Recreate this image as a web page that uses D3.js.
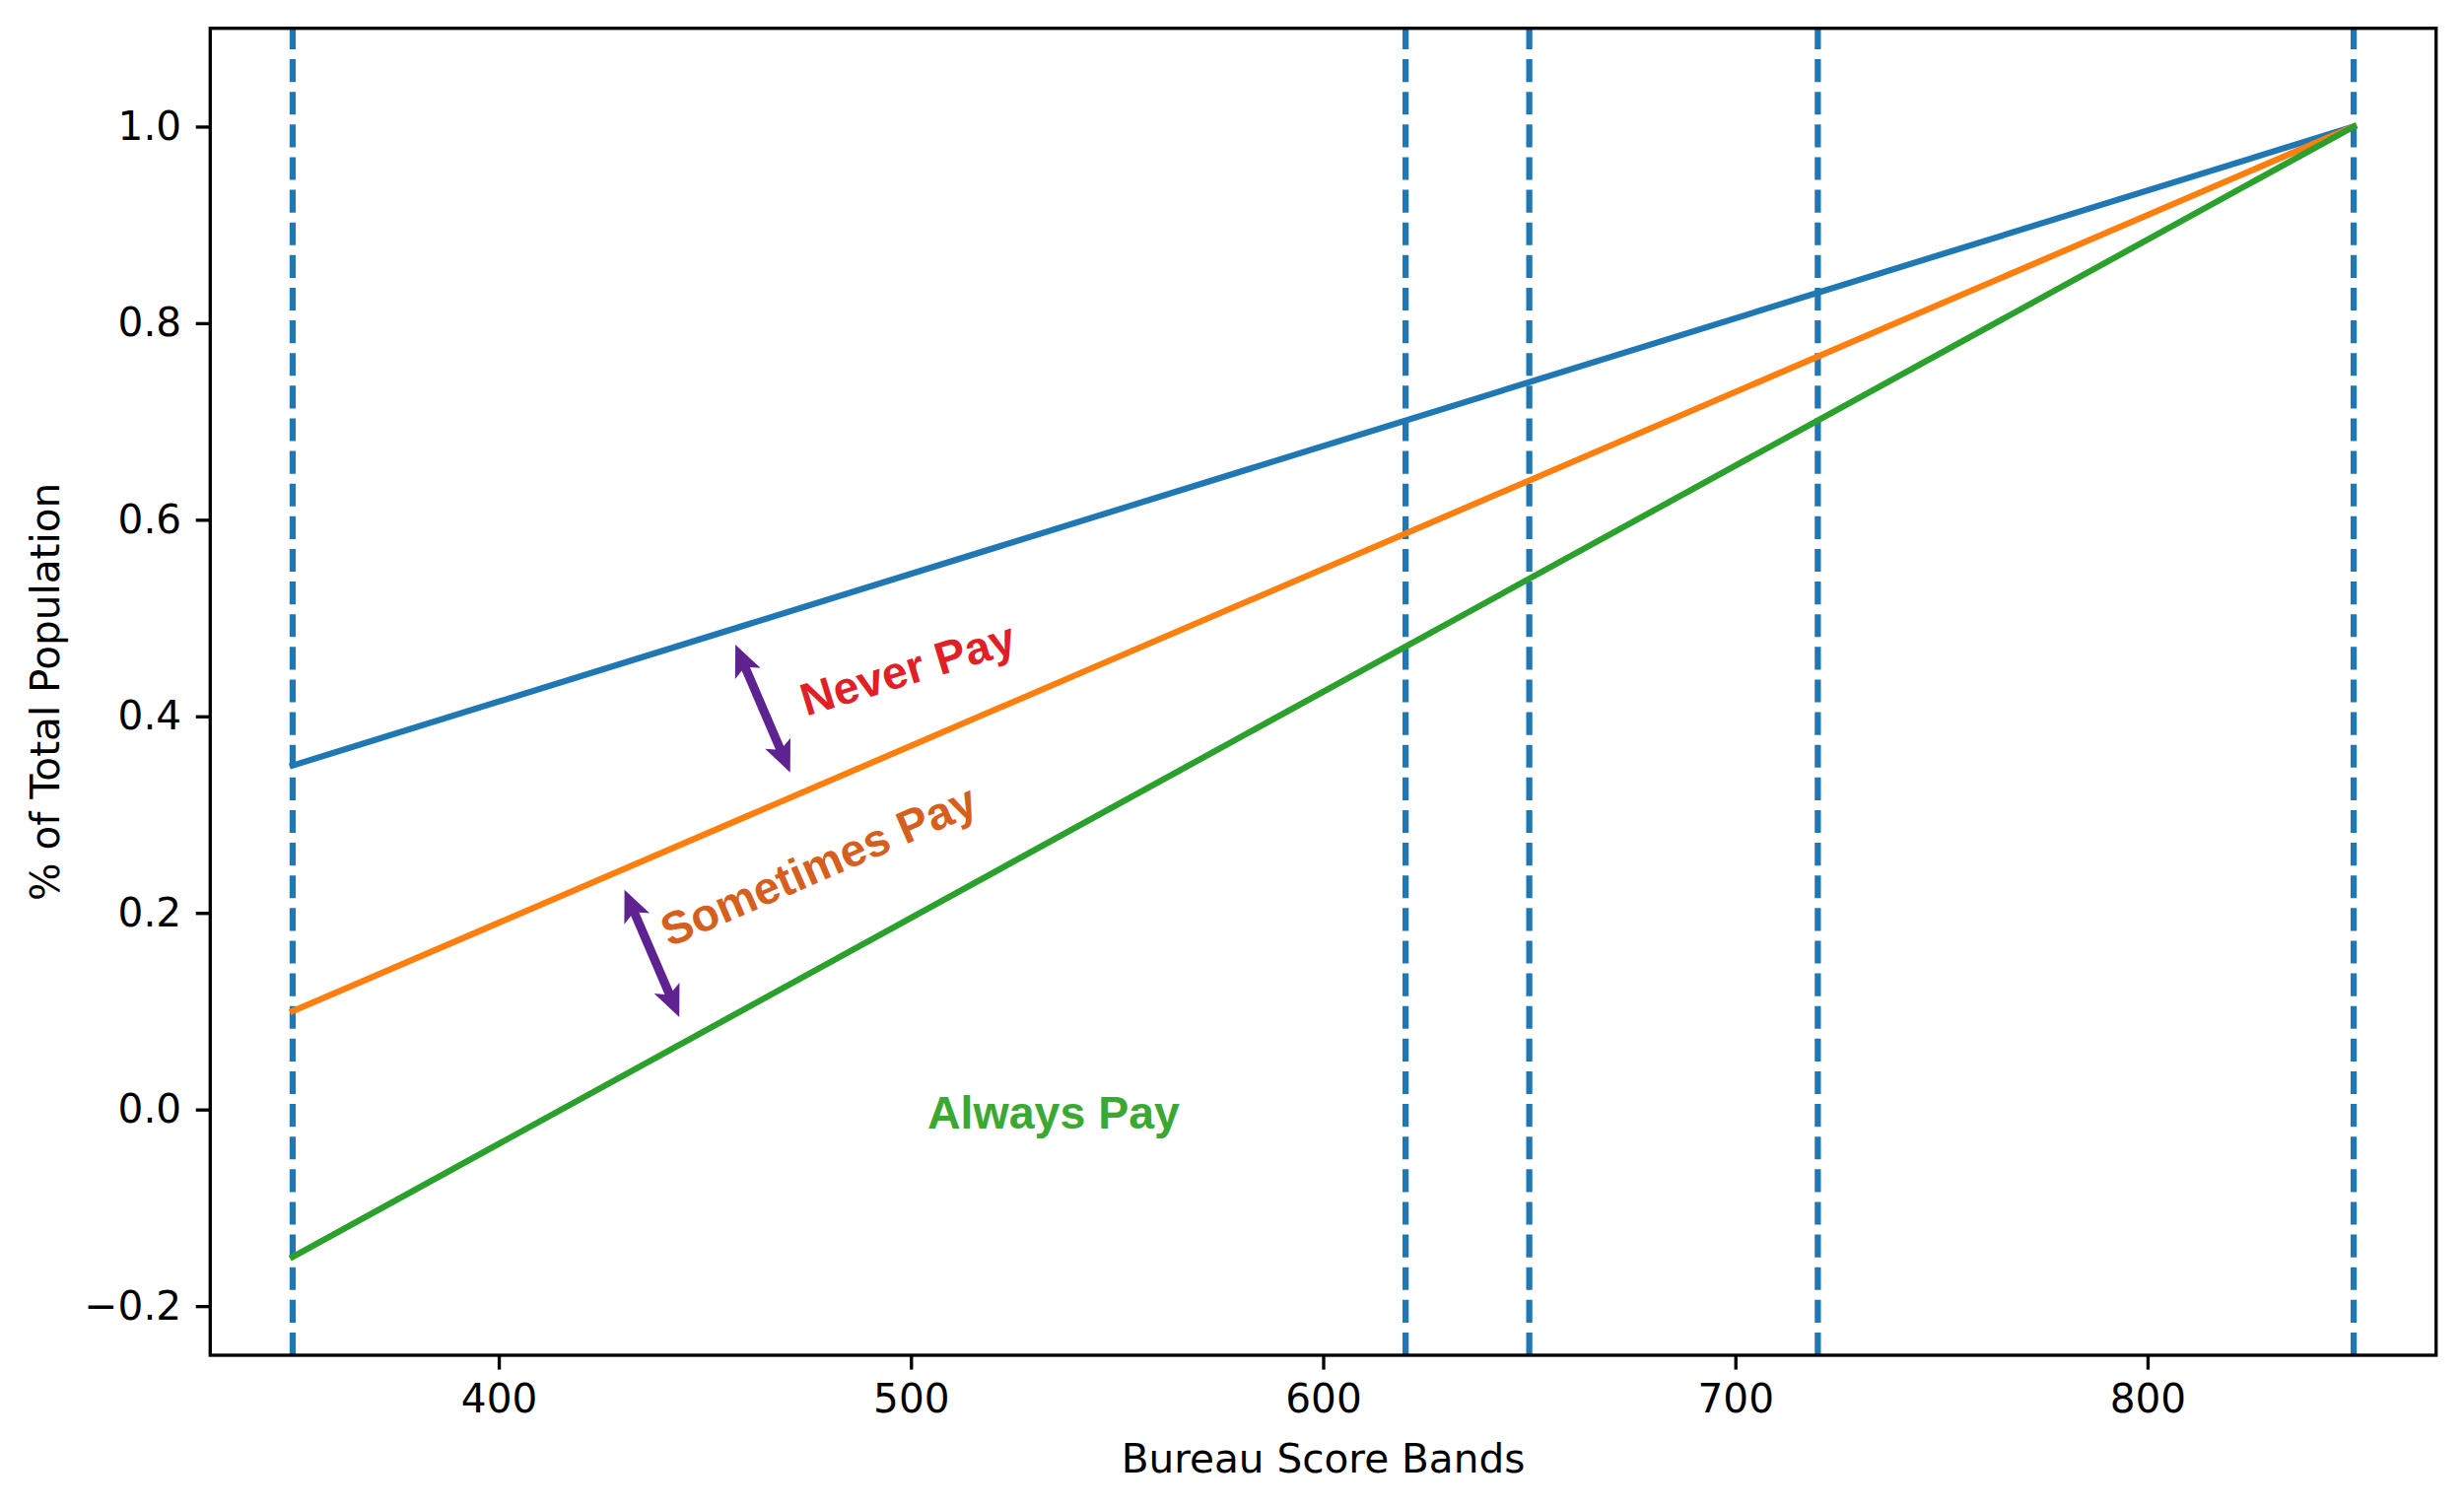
<!DOCTYPE html>
<html><head><meta charset="utf-8">
<script src="https://cdn.jsdelivr.net/npm/d3@7"></script>
<style>body{margin:0;background:#fff} svg{display:block}</style>
</head><body><svg id="c" width="2500" height="1530"></svg>
<script>
// ---- data ----
const scoreBands = [350, 620, 650, 720, 850];
const lineX = [350, 850];
const neverPay = [0.35, 1.0];
const sometimesPay = [0.10, 1.0];
const alwaysPay = [-0.15, 1.0];
const seriesNames = ["Never Pay", "Sometimes Pay", "Always Pay"];
const xTicks = [400, 500, 600, 700, 800];
const yTicks = [-0.2, 0.0, 0.2, 0.4, 0.6, 0.8, 1.0];
const xDomain = [330, 870];
const yDomain = [-0.25, 1.1];
const xLabel = "Bureau Score Bands";
const yLabel = "% of Total Population";
// annotations (data coordinates)
const annoText = ["Never Pay", "Sometimes Pay", "Always Pay"];
const annoX = [474.6, 441.4, 504];
const annoY = [0.40, 0.165, -0.019];
const annoAngle = [17, 23.5, 0];
const arrowStart = [[457.4, 0.473], [430.5, 0.2236]];
const arrowEnd = [[470.7, 0.343], [443.8, 0.094]];

// ---- layout ----
const L = 213.3, R = 2471.7, T = 28.7, B = 1375;
const PT = 300 / 72;
const fs = 40.6;
const svg = d3.select("#c");
const x = d3.scaleLinear().domain(xDomain).range([L, R]);
const y = d3.scaleLinear().domain(yDomain).range([B, T]);

const colors = ["#1f77b4", "#ff7f0e", "#2ca02c"];
const series = [neverPay, sometimesPay, alwaysPay];
const line = d3.line().x(d => x(d[0])).y(d => y(d[1]));

const plot = svg.append("g");
// dashed band lines (drawn bottom to top like matplotlib axvline)
plot.selectAll("line.band").data(scoreBands).join("line")
  .attr("x1", d => x(d)).attr("x2", d => x(d))
  .attr("y1", B).attr("y2", T)
  .attr("stroke", "#1f77b4").attr("stroke-width", 1.5 * PT)
  .attr("stroke-dasharray", `${3.7 * 1.5 * PT} ${1.6 * 1.5 * PT}`);

series.forEach((s, i) => {
  plot.append("path")
    .datum(lineX.map((xv, j) => [xv, s[j]]))
    .attr("d", line).attr("fill", "none")
    .attr("stroke", colors[i]).attr("stroke-width", 1.5 * PT)
    .attr("stroke-linecap", "square");
});

// arrows
const purple = "#5e2391";
arrowStart.forEach((s, i) => {
  const e = arrowEnd[i];
  const x1 = x(s[0]), y1 = y(s[1]), x2 = x(e[0]), y2 = y(e[1]);
  const dx = x2 - x1, dy = y2 - y1, len = Math.hypot(dx, dy);
  const ux = dx / len, uy = dy / len, px = -uy, py = ux;
  const hl = 27, hw = 14, sw = 4.5, notch = 5;
  const P = (a, b) => [x1 + ux * a + px * b, y1 + uy * a + py * b];
  const pts = [
    P(0, 0), P(hl + notch, hw), P(hl, sw), P(len - hl, sw), P(len - hl - notch, hw),
    P(len, 0), P(len - hl - notch, -hw), P(len - hl, -sw), P(hl, -sw), P(hl + notch, -hw)
  ];
  svg.append("polygon").attr("points", pts.map(p => p.join(",")).join(" "))
    .attr("fill", purple);
});

// annotation texts
const annoColors = ["#e01f27", "#d65f1e", "#3aa832"];
annoText.forEach((t, i) => {
  svg.append("text")
    .attr("transform", `translate(${x(annoX[i])},${y(annoY[i])}) rotate(${-annoAngle[i]})`)
    .attr("font-family", "Liberation Sans, Arial, sans-serif")
    .attr("font-weight", "bold").attr("font-size", 46.5)
    .attr("fill", annoColors[i]).text(t);
});

// axes
const xAxis = d3.axisBottom(x).tickValues(xTicks).tickSize(3.5 * PT).tickPadding(3.5 * PT)
  .tickFormat(d3.format("d"));
const yAxis = d3.axisLeft(y).tickValues(yTicks).tickSize(3.5 * PT).tickPadding(3.5 * PT)
  .tickFormat(d3.format(".1f"));
const gx = svg.append("g").attr("transform", `translate(0,${B})`).call(xAxis);
const gy = svg.append("g").attr("transform", `translate(${L},0)`).call(yAxis);
[gx, gy].forEach(g => {
  g.select(".domain").remove();
  g.selectAll(".tick line").attr("stroke", "#000").attr("stroke-width", 0.8 * PT);
  g.selectAll(".tick text").attr("fill", "#000").attr("font-size", fs)
    .attr("font-family", "DejaVu Sans, sans-serif");
});

// frame
svg.append("rect").attr("x", L).attr("y", T).attr("width", R - L).attr("height", B - T)
  .attr("fill", "none").attr("stroke", "#000").attr("stroke-width", 0.8 * PT);

// axis labels
svg.append("text").attr("x", (L + R) / 2).attr("y", 1494)
  .attr("text-anchor", "middle").attr("font-size", fs)
  .attr("font-family", "DejaVu Sans, sans-serif").text(xLabel);
svg.append("text").attr("transform", `translate(60,${(T + B) / 2}) rotate(-90)`)
  .attr("text-anchor", "middle").attr("font-size", fs)
  .attr("font-family", "DejaVu Sans, sans-serif").text(yLabel);
</script></body></html>
